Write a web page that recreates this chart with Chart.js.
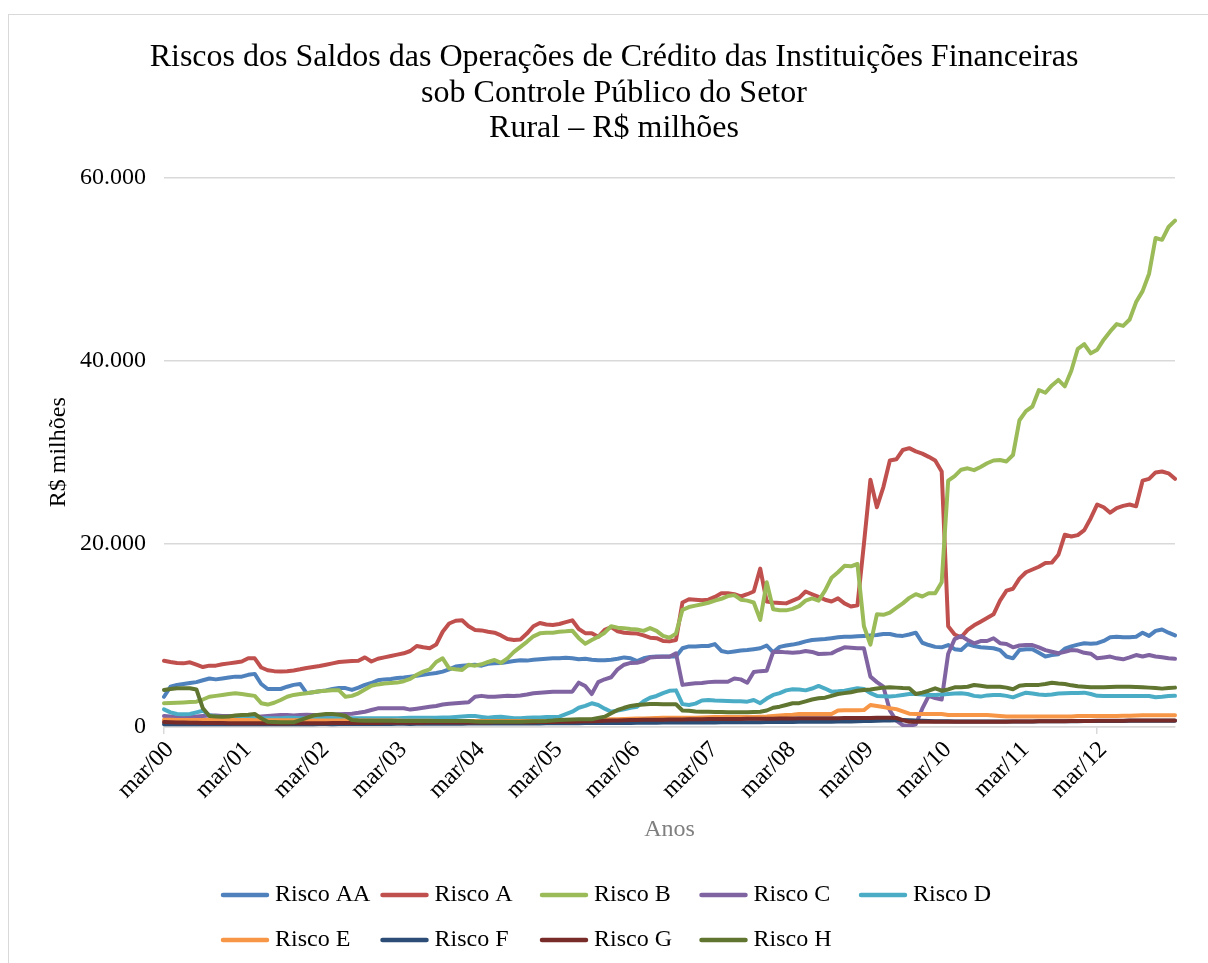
<!DOCTYPE html>
<html>
<head>
<meta charset="utf-8">
<script src="https://cdn.jsdelivr.net/npm/chart.js@4.4.0/dist/chart.umd.min.js"></script>
<style>
html, body { margin: 0; padding: 0; background: #fff; overflow: hidden; }
#moldura { position: absolute; left: 8px; top: 14px; width: 1300px; height: 1000px; border: 1px solid #d9d9d9; }
#grafico { position: absolute; left: 0; top: 0; }
</style>
</head>
<body>
<div id="moldura"></div>
<canvas id="grafico" width="1208" height="963"></canvas>
<script>
// meses de mar/00 a mar/13
var nomesMeses = ['mar', 'abr', 'mai', 'jun', 'jul', 'ago', 'set', 'out', 'nov', 'dez', 'jan', 'fev'];
var meses = [];
for (var i = 0; i <= 156; i++) {
    var ano = 2000 + Math.floor((i + 2) / 12);
    meses.push(nomesMeses[i % 12] + '/' + String(ano).slice(2));
}

var yTicks = [0, 20000, 40000, 60000];

var riscoAA = [
    3300, 4400, 4600, 4700, 4800, 4900, 5100, 5300, 5200, 5300, 5400, 5500,
    5500, 5700, 5800, 4700, 4150, 4150, 4150, 4400, 4600, 4700, 3700, 3800,
    3900, 4000, 4150, 4250, 4250, 4050, 4300, 4600, 4800, 5100, 5200, 5250,
    5350, 5400, 5500, 5600, 5700, 5800, 5900, 6050, 6300, 6600, 6700, 6750,
    6800, 6700, 6900, 6950, 7000, 7100, 7200, 7300, 7250, 7350, 7400, 7450,
    7500, 7500, 7550, 7500, 7400, 7450, 7350, 7300, 7300, 7350, 7450, 7600,
    7500, 7200, 7500, 7650, 7700, 7700, 7700, 7700, 8600, 8800, 8800, 8850,
    8850, 9050, 8300, 8150, 8250, 8350, 8400, 8500, 8600, 8900, 8150, 8750,
    8900, 9000, 9150, 9350, 9500, 9550, 9600, 9700, 9800, 9850, 9850, 9900,
    9950, 10000, 10050, 10150, 10150, 10000, 9950, 10100, 10300, 9200, 8950, 8750,
    8700, 8950, 8500, 8400, 9050, 8850, 8700, 8650, 8600, 8400, 7700, 7500,
    8400, 8500, 8500, 8100, 7700, 7850, 7950, 8550, 8800, 9000, 9150, 9100,
    9150, 9400, 9800, 9850, 9800, 9800, 9850, 10300, 9950, 10500, 10650, 10300,
    10000
];
var riscoA = [
    7240, 7100, 7000, 6950, 7060, 6800, 6550, 6700, 6700, 6850, 6950, 7050,
    7150, 7500, 7500, 6500, 6200, 6100, 6050, 6100, 6180, 6300, 6450, 6550,
    6660, 6800, 6950, 7100, 7150, 7200, 7240, 7600, 7150, 7450, 7600, 7750,
    7900, 8050, 8300, 8850, 8700, 8600, 9000, 10400, 11300, 11600, 11650, 11000,
    10600, 10550, 10400, 10300, 10000, 9600, 9500, 9550, 10200, 11000, 11350, 11200,
    11150, 11250, 11450, 11650, 10700, 10250, 10250, 9850, 10600, 10900, 10450, 10300,
    10250, 10200, 10000, 9750, 9700, 9400, 9350, 9500, 13600, 13950, 13900, 13850,
    13900, 14200, 14600, 14600, 14500, 14250, 14500, 14800, 17300, 13700, 13600, 13550,
    13500, 13800, 14100, 14800, 14500, 14200, 13900, 13700, 14050, 13500, 13150, 13300,
    20000, 27000, 24000, 26200, 29100, 29230, 30250, 30450, 30100, 29850, 29500, 29100,
    27900, 11000, 10100, 9800, 10600, 11100, 11500, 11900, 12300, 13800, 14900, 15100,
    16200, 16900, 17200, 17500, 17900, 17950, 18800, 21000, 20800, 20950, 21500, 22800,
    24300, 24000, 23400, 23900, 24150, 24300, 24100, 26900, 27100, 27800, 27900, 27700,
    27100
];
var riscoB = [
    2590, 2620, 2650, 2680, 2720, 2760, 3000, 3300, 3400, 3500, 3600, 3680,
    3600, 3500, 3400, 2600, 2450, 2650, 2950, 3300, 3500, 3600, 3680, 3800,
    3900, 3960, 4000, 4000, 3300, 3400, 3680, 4100, 4500, 4650, 4750, 4800,
    4850, 5000, 5250, 5700, 6050, 6300, 7100, 7500, 6400, 6300, 6230, 6800,
    6700, 6850, 7100, 7320, 7000, 7500, 8200, 8750, 9300, 9900, 10230, 10280,
    10300, 10400, 10450, 10520, 9700, 9100, 9500, 9860, 10300, 11000, 10850, 10780,
    10700, 10650, 10500, 10800, 10500, 9950, 9750, 10200, 12800, 13100, 13250, 13400,
    13570, 13800, 14000, 14300, 14400, 13900, 13800, 13600, 11700, 15800, 12850, 12750,
    12740, 12900, 13200, 13800, 14050, 13800, 14900, 16300, 16900, 17600, 17550, 17800,
    11000, 9000, 12300, 12250, 12500, 13000, 13500, 14100, 14500, 14250, 14600, 14600,
    15800, 26900, 27400, 28100, 28250, 28050, 28400, 28800, 29100, 29150, 29000, 29700,
    33500, 34500, 35000, 36800, 36500, 37300, 37900, 37200, 38900, 41300, 41800, 40800,
    41200, 42300, 43200, 44000, 43800, 44500, 46400, 47600, 49500, 53400, 53200, 54600,
    55300
];
var riscoC = [
    1200, 1150, 1100, 1100, 1100, 1150, 1200, 1250, 1250, 1200, 1200, 1150,
    1150, 1100, 1100, 1150, 1200, 1250, 1300, 1300, 1250, 1310, 1350, 1300,
    1250, 1300, 1350, 1400, 1420, 1450, 1550, 1670, 1850, 2040, 2050, 2050,
    2040, 2040, 1900, 2000, 2100, 2200, 2300, 2450, 2550, 2600, 2650, 2700,
    3300, 3400, 3300, 3310, 3350, 3400, 3390, 3450, 3550, 3680, 3750, 3800,
    3860, 3860, 3860, 3860, 4840, 4470, 3600, 4900, 5210, 5430, 6300, 6800,
    7000, 7020, 7200, 7600, 7650, 7680, 7680, 8050, 4600, 4700, 4770, 4800,
    4900, 4950, 4950, 4950, 5300, 5200, 4840, 6000, 6100, 6150, 8200, 8220,
    8150, 8110, 8150, 8300, 8200, 7970, 8000, 8040, 8400, 8700, 8650, 8600,
    8590, 5500, 4900, 4400, 1800, 700, 200, 100, 300, 2000, 3400, 3150,
    3000, 8000, 9600, 9940, 9500, 9140, 9390, 9390, 9690, 9150, 9060, 8700,
    8900, 8950, 8950, 8700, 8400, 8220, 8050, 8200, 8400, 8350, 8100, 8000,
    7500, 7600, 7690, 7500, 7390, 7600, 7860, 7700, 7860, 7700, 7610, 7500,
    7450
];
var riscoD = [
    1930, 1600, 1420, 1400, 1420, 1600, 1780, 1300, 1150, 1100, 1100, 1100,
    1060, 1050, 1000, 950, 950, 950, 950, 1000, 1000, 950, 950, 950,
    950, 950, 950, 950, 950, 950, 950, 950, 950, 950, 950, 950,
    950, 980, 1000, 1000, 1000, 1000, 1000, 1050, 1050, 1100, 1150, 1200,
    1200, 1100, 1000, 1100, 1130, 1050, 950, 950, 1000, 1050, 1050, 1100,
    1100, 1130, 1400, 1670, 2100, 2300, 2590, 2400, 2000, 1670, 1800, 1930,
    2100, 2220, 2800, 3200, 3390, 3700, 3950, 4000, 2500, 2400, 2550, 2900,
    2950, 2900, 2880, 2850, 2800, 2800, 2770, 2950, 2600, 3100, 3500, 3700,
    4000, 4120, 4100, 4000, 4200, 4480, 4200, 3860, 3900, 3970, 4100, 4230,
    4150, 3700, 3390, 3350, 3320, 3400, 3500, 3600, 3600, 3550, 3500, 3500,
    3550, 3600, 3650, 3680, 3600, 3400, 3320, 3450, 3500, 3500, 3400, 3240,
    3500, 3750, 3650, 3550, 3500, 3550, 3650, 3680, 3700, 3720, 3750, 3600,
    3400, 3390, 3390, 3390, 3390, 3390, 3390, 3390, 3390, 3240, 3300, 3390,
    3400
];
var riscoE = [
    800, 780, 760, 760, 760, 760, 760, 760, 760, 760, 760, 760,
    760, 760, 740, 740, 740, 740, 740, 740, 740, 740, 720, 720,
    720, 720, 720, 700, 700, 700, 700, 700, 700, 700, 700, 700,
    700, 680, 680, 680, 680, 680, 660, 660, 660, 660, 660, 660,
    650, 650, 650, 650, 650, 650, 650, 650, 650, 650, 650, 650,
    660, 680, 700, 720, 740, 760, 780, 800, 820, 840, 860, 880,
    900, 920, 940, 960, 980, 1000, 1000, 1000, 1000, 1000, 1020, 1040,
    1060, 1080, 1100, 1100, 1100, 1100, 1100, 1100, 1120, 1150, 1200, 1250,
    1300, 1350, 1420, 1420, 1420, 1420, 1420, 1420, 1800, 1820, 1820, 1820,
    1850, 2400, 2300, 2180, 2050, 1950, 1700, 1450, 1420, 1420, 1420, 1420,
    1420, 1310, 1310, 1310, 1310, 1310, 1310, 1310, 1250, 1200, 1150, 1150,
    1150, 1150, 1150, 1150, 1150, 1150, 1150, 1150, 1150, 1200, 1200, 1200,
    1200, 1200, 1200, 1200, 1220, 1240, 1260, 1280, 1280, 1280, 1280, 1280,
    1280
];
var riscoF = [
    300, 300, 290, 290, 300, 300, 310, 300, 300, 290, 290, 300,
    300, 300, 310, 300, 290, 290, 300, 300, 310, 310, 300, 300,
    320, 320, 310, 320, 330, 320, 320, 330, 330, 320, 330, 340,
    350, 350, 340, 350, 360, 350, 350, 360, 360, 350, 360, 370,
    380, 380, 370, 380, 390, 380, 380, 390, 390, 380, 390, 400,
    400, 400, 410, 420, 420, 430, 430, 440, 440, 450, 450, 450,
    450, 460, 460, 470, 470, 480, 480, 480, 490, 490, 500, 500,
    500, 500, 510, 510, 520, 520, 520, 530, 530, 540, 540, 550,
    550, 550, 560, 560, 570, 570, 580, 580, 590, 600, 610, 620,
    650, 660, 680, 700, 720, 740, 760, 740, 700, 680, 660, 640,
    620, 620, 610, 610, 600, 600, 600, 600, 600, 600, 610, 610,
    600, 600, 610, 620, 620, 630, 630, 640, 640, 640, 650, 650,
    650, 650, 660, 660, 660, 670, 670, 670, 680, 680, 680, 690,
    690
];
var riscoG = [
    550, 520, 500, 480, 470, 460, 450, 440, 430, 430, 420, 420,
    420, 410, 400, 400, 400, 390, 390, 390, 400, 400, 410, 410,
    420, 420, 430, 430, 440, 440, 440, 450, 450, 450, 460, 460,
    460, 460, 470, 470, 470, 480, 480, 480, 490, 490, 490, 500,
    500, 500, 500, 510, 510, 510, 520, 520, 530, 530, 540, 540,
    550, 560, 570, 580, 600, 620, 640, 660, 680, 700, 720, 740,
    760, 770, 780, 790, 800, 800, 810, 820, 830, 840, 850, 850,
    860, 860, 870, 870, 880, 880, 890, 890, 900, 900, 910, 920,
    930, 940, 950, 950, 950, 950, 960, 960, 960, 970, 970, 970,
    980, 990, 1000, 1000, 1000, 980, 750, 580, 570, 560, 560, 560,
    560, 560, 560, 560, 560, 560, 560, 570, 570, 580, 580, 590,
    600, 600, 610, 620, 620, 630, 640, 640, 650, 650, 660, 660,
    670, 680, 680, 690, 690, 700, 700, 700, 710, 710, 720, 720,
    720
];
var riscoH = [
    4040, 4150, 4230, 4230, 4230, 4100, 2040, 1200, 1150, 1130, 1150, 1250,
    1310, 1350, 1420, 950, 580, 550, 520, 510, 510, 760, 1000, 1250,
    1350, 1420, 1420, 1350, 1200, 760, 700, 690, 680, 680, 670, 670,
    660, 660, 660, 650, 650, 650, 650, 660, 660, 660, 660, 660,
    600, 580, 580, 580, 580, 580, 580, 580, 600, 620, 640, 660,
    700, 760, 800, 820, 840, 840, 840, 1000, 1130, 1500, 1860, 2100,
    2300, 2400, 2450, 2510, 2500, 2490, 2480, 2480, 1800, 1780, 1700, 1670,
    1670, 1650, 1650, 1620, 1600, 1600, 1600, 1650, 1670, 1800, 2100, 2220,
    2400, 2590, 2600, 2800, 3000, 3130, 3200, 3400, 3600, 3700, 3800, 3950,
    4040, 4100, 4200, 4300, 4330, 4300, 4250, 4230, 3600, 3750, 3960, 4230,
    3960, 4100, 4330, 4350, 4400, 4590, 4500, 4400, 4400, 4400, 4300, 4120,
    4500, 4590, 4590, 4600, 4700, 4840, 4750, 4700, 4550, 4450, 4400, 4330,
    4330, 4350, 4380, 4400, 4400, 4400, 4380, 4350, 4300, 4250, 4190, 4250,
    4300
];

var fonte = 'Liberation Serif';

function formataMilhar(v) {
    return String(v).replace(/\B(?=(\d{3})+(?!\d))/g, '.');
}

function serie(nome, valores, cor, ordem) {
    return {
        label: nome,
        data: valores,
        borderColor: cor,
        backgroundColor: cor,
        borderWidth: 4,
        pointRadius: 0,
        tension: 0,
        borderJoinStyle: 'round',
        borderCapStyle: 'round',
        order: ordem
    };
}

// legenda em grade, como no Excel
var legendaGrade = {
    id: 'legendaGrade',
    afterDraw: function (chart) {
        var ctx = chart.ctx;
        ctx.save();
        ctx.font = '24px "' + fonte + '"';
        ctx.textBaseline = 'middle';
        ctx.textAlign = 'left';
        chart.data.datasets.forEach(function (ds, i) {
            var x = 221 + (i % 5) * 159.5;
            var y = 895 + Math.floor(i / 5) * 45;
            ctx.strokeStyle = ds.borderColor;
            ctx.lineWidth = 4.5;
            ctx.lineCap = 'round';
            ctx.beginPath();
            ctx.moveTo(x + 2, y);
            ctx.lineTo(x + 46, y);
            ctx.stroke();
            ctx.fillStyle = '#000';
            ctx.fillText(ds.label, x + 54, y);
        });
        ctx.restore();
    }
};

new Chart(document.getElementById('grafico'), {
    type: 'line',
    data: {
        labels: meses,
        datasets: [
            serie('Risco AA', riscoAA, '#4F81BD', 8),
            serie('Risco A', riscoA, '#C0504D', 7),
            serie('Risco B', riscoB, '#9BBB59', 6),
            serie('Risco C', riscoC, '#8064A2', 5),
            serie('Risco D', riscoD, '#4BACC6', 4),
            serie('Risco E', riscoE, '#F79646', 3),
            serie('Risco F', riscoF, '#2C4D75', 2),
            serie('Risco G', riscoG, '#772C2A', 1),
            serie('Risco H', riscoH, '#5F7530', 0)
        ]
    },
    options: {
        responsive: false,
        animation: false,
        events: [],
        layout: { padding: { left: 53, right: 33, top: 0, bottom: 110 } },
        plugins: {
            legend: { display: false },
            tooltip: { enabled: false },
            title: {
                display: true,
                text: [
                    'Riscos dos Saldos das Operações de Crédito das Instituições Financeiras',
                    'sob Controle Público do Setor',
                    'Rural – R$ milhões'
                ],
                color: '#000',
                font: { family: fonte, size: 32, weight: 'normal', lineHeight: 1.11 },
                padding: { top: 40, bottom: 31 }
            }
        },
        scales: {
            x: {
                type: 'category',
                offset: false,
                grid: {
                    drawOnChartArea: false,
                    drawTicks: true,
                    tickLength: 7,
                    lineWidth: 1.5,
                    color: function (c) { return c.index % 12 === 0 ? '#d9d9d9' : 'rgba(0,0,0,0)'; }
                },
                border: { display: true, color: '#d9d9d9', width: 1.5 },
                ticks: {
                    autoSkip: false,
                    maxRotation: 45,
                    minRotation: 45,
                    padding: 2,
                    labelOffset: 6,
                    color: '#000',
                    font: { family: fonte, size: 24 },
                    callback: function (v, i) {
                        if (i === 156) return '';
                        return i % 12 === 0 ? meses[i] : null;
                    }
                },
                title: {
                    display: true,
                    text: 'Anos',
                    color: '#7f7f7f',
                    font: { family: fonte, size: 24 },
                    padding: { top: 9, bottom: 9 }
                },
                afterFit: function (s) { s.height = 126; }
            },
            y: {
                min: 0,
                max: 60000,
                afterBuildTicks: function (s) {
                    s.ticks = yTicks.map(function (v) { return { value: v }; });
                },
                grid: { color: '#d9d9d9', lineWidth: 1.5, drawTicks: false },
                border: { display: false },
                ticks: {
                    padding: 18,
                    color: '#000',
                    font: { family: fonte, size: 24 },
                    callback: function (v) { return formataMilhar(v); }
                },
                title: {
                    display: true,
                    text: 'R$ milhões',
                    color: '#000',
                    font: { family: fonte, size: 24 },
                    padding: { top: -9, bottom: 4 }
                },
                afterFit: function (s) { s.width = 111; }
            }
        }
    },
    plugins: [legendaGrade]
});
</script>
</body>
</html>
